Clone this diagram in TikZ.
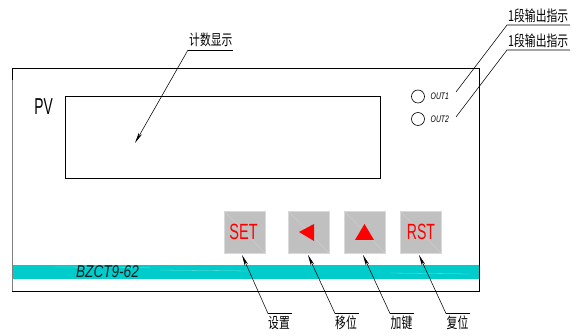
\documentclass[tikz,border=0pt]{standalone}
\usepackage{fontspec}
\setmainfont{Liberation Sans}
\newfontfamily\cjk{Noto Sans CJK SC}
\usetikzlibrary{arrows.meta}
\definecolor{stripc}{HTML}{00CCCC}
\definecolor{keyc}{HTML}{C0C0C0}
\newcommand{\narrow}[2]{\scalebox{#1}[1]{#2}}
\tikzset{
  x=1pt,y=-1pt,
  panel/.style={draw=black,line width=0.8pt,fill=none},
  keybox/.style={draw=keyc!60!white,line width=0.7pt,fill=keyc,minimum width=41pt,minimum height=42pt,inner sep=0pt,outer sep=0pt},
  keytext/.style={text=red,font=\fontsize{22}{22}\selectfont,inner sep=0pt},
  cn/.style={font=\cjk\fontsize{15}{15}\selectfont,inner sep=0pt,anchor=base west,text=black},
  leader/.style={draw=black,line width=0.55pt},
  tiparrow/.style={leader,-{Stealth[length=11pt,width=3.6pt]}},
  lamp/.style={circle,draw=black,line width=0.6pt,minimum size=13pt,inner sep=0pt},
  lamptext/.style={font=\itshape\fontsize{9.5}{9.5}\selectfont,inner sep=0pt,anchor=west},
}
\begin{document}
\begin{tikzpicture}
\useasboundingbox (0,0) rectangle (582,336);
% strip
\fill[stripc] (12,265) rectangle (479.5,279);
\draw[white!45!stripc,line width=0.3pt] (55,267) -- (150,267.5) (160,270) -- (250,271) (390,273) -- (470,274);
\node[inner sep=0pt,font=\itshape\fontsize{17}{17}\selectfont,text=black!85!stripc] (model) at (107.5,271.5) {\narrow{0.8}{BZCT9-62}};
% panel
\draw[panel] (479.5,68) -- (12,68) -- (12,291.5) -- (479.5,291.5) -- cycle;
\draw[gray,line width=0.9pt] (12,80) -- (12,291);
% display
\node[panel,minimum width=315pt,minimum height=82pt,inner sep=0pt,anchor=north west] (disp) at (65,96) {};
\node[inner sep=0pt,font=\fontsize{23}{23}\selectfont] (pv) at (43.5,106.5) {\narrow{0.6}{PV}};
% lamps
\node[lamp] (l1) at (418,96.5) {};
\node[lamp] (l2) at (418,119) {};
\node[lamptext] (o1) at (430.5,96.5) {\narrow{0.72}{OUT1}};
\node[lamptext] (o2) at (430.5,119) {\narrow{0.72}{OUT2}};
% keys
\node[keybox] (kset) at (244.5,232) {};
\node[keybox] (kleft) at (308.5,232) {};
\node[keybox] (kup) at (364.5,232) {};
\node[keybox] (krst) at (420.5,232) {};
\foreach \k in {kset,kleft,kup,krst}
  \draw[keyc!75!white,line width=0.35pt] (\k.north west) -- (\k.south east);
\node[keytext] (tset) at (243.5,232) {\narrow{0.66}{SET}};
\node[keytext] (trst) at (421,232) {\narrow{0.64}{RST}};
\fill[red] (299,232) -- (314,224) -- (314,241) -- cycle;
\fill[red] (355,240) -- (374,240) -- (364.5,224) -- cycle;
% top labels
\node[cn] (tcount) at (189,46) {\narrow{0.72}{计数显示}};
\node[cn] (tout1) at (508,22) {\narrow{0.72}{1段输出指示}};
\node[cn] (tout2) at (508,46.5) {\narrow{0.72}{1段输出指示}};
\coordinate (acount) at (188,50); \coordinate (bcount) at (233,50); \coordinate (ccount) at (135,143);
\draw[leader] (bcount) -- (acount);
\draw[tiparrow] (acount) -- (ccount);
\coordinate (a1) at (507,25); \coordinate (b1) at (570,25); \coordinate (c1) at (456,92);
\coordinate (a2) at (507,50); \coordinate (b2) at (570,50); \coordinate (c2) at (456,117);
\draw[leader] (b1) -- (a1) -- (c1);
\draw[leader] (b2) -- (a2) -- (c2);
% bottom labels
\node[cn] (lset) at (268,329) {\narrow{0.72}{设置}};
\node[cn] (lleft) at (335,329) {\narrow{0.72}{移位}};
\node[cn] (lup) at (390.5,329) {\narrow{0.72}{加键}};
\node[cn] (lrst) at (446.5,329) {\narrow{0.72}{复位}};
\coordinate (s0) at (292,313.5); \coordinate (s1) at (268,313.5); \coordinate (s2) at (242,255);
\coordinate (m0) at (359,313.5); \coordinate (m1) at (335,313.5); \coordinate (m2) at (308,255);
\coordinate (u0) at (414,313.5); \coordinate (u1) at (390,313.5); \coordinate (u2) at (363,255);
\coordinate (r0) at (470,313.5); \coordinate (r1) at (446,313.5); \coordinate (r2) at (419,255);
\foreach \p in {s,m,u,r}{
  \draw[leader] (\p0) -- (\p1);
  \draw[tiparrow] (\p1) -- (\p2);
}
\end{tikzpicture}
\end{document}
